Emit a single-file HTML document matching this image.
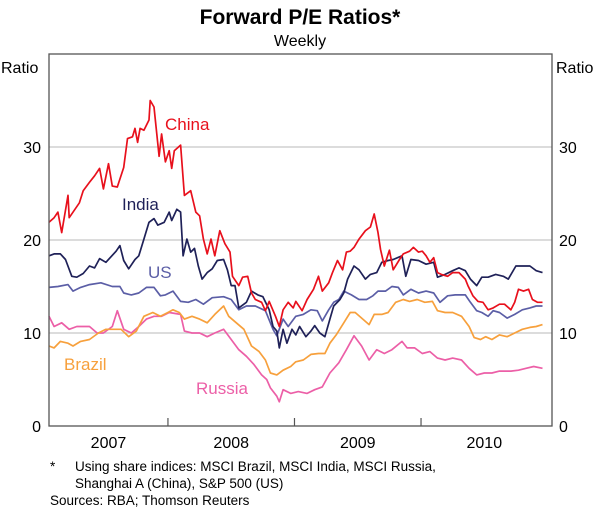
<!DOCTYPE html>
<html><head><meta charset="utf-8"><style>
body{margin:0;background:#fff;font-family:"Liberation Sans",Arial,sans-serif;}
svg{display:block}
</style></head><body>
<svg id="chart" width="600" height="510" xmlns="http://www.w3.org/2000/svg" font-family="Liberation Sans, Arial, sans-serif">
<text x="300" y="24" text-anchor="middle" font-size="21" font-weight="bold" fill="#000">Forward P/E Ratios*</text>
<text x="300" y="46" text-anchor="middle" font-size="16" fill="#000">Weekly</text>
<text x="1" y="73" font-size="16" fill="#000">Ratio</text>
<text x="556" y="73" font-size="16" fill="#000">Ratio</text>
<g id="grid"></g>
<g id="series"></g>
<rect x="49" y="54" width="503" height="372" fill="none" stroke="#555" stroke-width="1.3"/>
<g id="axes"></g>
<text x="165" y="130" font-size="17" fill="#e8101c">China</text>
<text x="122" y="210" font-size="17" fill="#1f2158">India</text>
<text x="148" y="278" font-size="17" fill="#5b5ea6">US</text>
<text x="64" y="370" font-size="17" fill="#f7a03c">Brazil</text>
<text x="196" y="394" font-size="17" fill="#ec5fa7">Russia</text>
<text x="50" y="471" font-size="13.5" fill="#000">*</text>
<text x="75" y="471" font-size="13.5" fill="#000">Using share indices: MSCI Brazil, MSCI India, MSCI Russia,</text>
<text x="75" y="488" font-size="13.5" fill="#000">Shanghai A (China), S&amp;P 500 (US)</text>
<text x="50" y="505" font-size="13.5" fill="#000">Sources: RBA; Thomson Reuters</text>
</svg>
<script>
const yTicks=[0,10,20,30];
const yearLabels=[2007,2008,2009,2010];
const chinaT=[2007.06,2007.10,2007.13,2007.16,2007.21,2007.22,2007.30,2007.33,2007.38,2007.42,2007.46,2007.49,2007.53,2007.56,2007.60,2007.65,2007.68,2007.72,2007.74,2007.76,2007.78,2007.81,2007.85,2007.86,2007.89,2007.93,2007.95,2007.98,2008.01,2008.03,2008.05,2008.10,2008.13,2008.18,2008.22,2008.25,2008.28,2008.31,2008.34,2008.37,2008.41,2008.45,2008.49,2008.51,2008.56,2008.59,2008.63,2008.66,2008.69,2008.74,2008.77,2008.80,2008.85,2008.88,2008.91,2008.95,2008.99,2009.01,2009.06,2009.10,2009.15,2009.19,2009.22,2009.27,2009.30,2009.34,2009.38,2009.41,2009.44,2009.47,2009.51,2009.56,2009.60,2009.63,2009.66,2009.68,2009.71,2009.75,2009.78,2009.83,2009.86,2009.91,2009.94,2009.98,2010.01,2010.04,2010.07,2010.10,2010.13,2010.16,2010.21,2010.25,2010.30,2010.35,2010.37,2010.41,2010.45,2010.49,2010.53,2010.57,2010.62,2010.66,2010.71,2010.74,2010.77,2010.81,2010.85,2010.88,2010.92,2010.96];
const chinaV=[21.9,22.4,23,20.8,24.8,22.4,24,25.3,26.2,26.9,27.7,25.5,28.2,25.8,25.7,27.8,30.9,31.1,32,30.5,32,31.8,32.9,35,34.3,29,31.4,28.4,29.6,27.7,29.6,30.2,24.8,25.3,23,22.6,20.1,18.5,20.1,18.3,21,19.6,18.7,16.1,15.1,16,16.1,14.3,13.6,13.3,12.4,13.4,11.8,10.7,12.5,13.3,12.7,13.4,12.4,13.6,14.7,16.1,14.5,15.4,16.5,17.8,16.8,18.7,18.8,19.2,20.1,21,21.4,22.8,20.8,19,17.2,18.9,16.8,17.9,18.5,18.8,19.2,18.7,18.8,18.3,17.6,18.1,16.5,16.3,16.1,16.5,16.5,15.8,15.1,14,13.4,13.3,12.5,12.7,13.1,13.1,12.5,13.3,14.7,14.5,14.7,13.6,13.3,13.3];
const indiaT=[2007.06,2007.10,2007.15,2007.19,2007.24,2007.28,2007.33,2007.38,2007.42,2007.46,2007.51,2007.59,2007.62,2007.65,2007.69,2007.74,2007.77,2007.81,2007.85,2007.89,2007.92,2007.97,2008.01,2008.03,2008.07,2008.10,2008.12,2008.15,2008.18,2008.21,2008.24,2008.27,2008.31,2008.35,2008.39,2008.44,2008.47,2008.50,2008.53,2008.56,2008.62,2008.66,2008.71,2008.75,2008.80,2008.83,2008.86,2008.88,2008.91,2008.94,2008.98,2009.01,2009.04,2009.09,2009.13,2009.16,2009.20,2009.24,2009.28,2009.31,2009.36,2009.39,2009.42,2009.47,2009.51,2009.56,2009.60,2009.65,2009.69,2009.74,2009.78,2009.85,2009.88,2009.92,2009.98,2010.04,2010.10,2010.13,2010.19,2010.25,2010.30,2010.35,2010.39,2010.44,2010.48,2010.53,2010.59,2010.65,2010.69,2010.75,2010.82,2010.86,2010.91,2010.96];
const indiaV=[18.3,18.5,18.5,17.9,16.1,16,16.4,17.2,17,18,17.6,18.8,19.4,17.8,16.9,17.9,18.3,20.1,21.9,22.3,21.6,21.9,23,22.1,23.3,23,18.3,20.1,18.7,19.1,17.2,15.8,16.5,16.9,17.8,17.9,16.8,15.1,15.1,12.7,13.3,14.5,14.1,13.9,12.5,10.7,10.2,8.4,10.4,8.9,10.4,9.8,10.7,9.6,10.2,10.8,10,9.6,11.5,12.9,13.6,14.3,15.8,17.2,16.8,15.8,16.3,16.5,17.6,17.8,17.9,18.3,16.1,17.9,17.8,17.4,17.6,16,16.3,16.7,17,16.7,15.8,15.1,16,16,16.3,16.1,15.8,17.2,17.2,17.2,16.7,16.5];
const usT=[2007.06,2007.13,2007.21,2007.25,2007.31,2007.38,2007.47,2007.56,2007.62,2007.65,2007.71,2007.77,2007.83,2007.89,2007.94,2007.98,2008.04,2008.10,2008.16,2008.22,2008.28,2008.35,2008.44,2008.50,2008.56,2008.62,2008.69,2008.77,2008.83,2008.86,2008.91,2008.95,2009.01,2009.07,2009.13,2009.18,2009.22,2009.27,2009.31,2009.35,2009.39,2009.45,2009.51,2009.57,2009.62,2009.66,2009.72,2009.77,2009.82,2009.86,2009.92,2009.98,2010.04,2010.10,2010.15,2010.21,2010.27,2010.35,2010.39,2010.44,2010.48,2010.53,2010.57,2010.62,2010.68,2010.74,2010.80,2010.86,2010.91,2010.96];
const usV=[14.9,15,15.2,14.5,14.9,15.2,15.4,15,15,14.3,14.1,14.3,14.9,14.9,14,14.1,14.5,13.4,13.3,13.6,13.1,13.8,13.9,13.6,12.5,12.9,12.9,12.4,10.4,9.7,11.5,10.7,11.8,12,12.5,12.4,11.3,12.5,13.3,13.6,14.5,14.1,13.6,13.6,14,14.5,14.5,15,14.9,14.1,14.7,14.3,14.5,14.3,13.3,14,14.1,14.1,13.3,12.4,12.2,11.8,12.4,12.2,11.6,12,12.5,12.7,12.9,12.9];
const brazilT=[2007.06,2007.10,2007.15,2007.21,2007.25,2007.31,2007.38,2007.45,2007.51,2007.57,2007.63,2007.69,2007.75,2007.81,2007.88,2007.94,2008.00,2008.04,2008.09,2008.13,2008.19,2008.25,2008.31,2008.37,2008.44,2008.48,2008.54,2008.60,2008.66,2008.72,2008.77,2008.81,2008.86,2008.91,2008.97,2009.01,2009.07,2009.13,2009.19,2009.24,2009.28,2009.33,2009.39,2009.44,2009.48,2009.54,2009.59,2009.63,2009.69,2009.74,2009.80,2009.86,2009.91,2009.97,2010.03,2010.09,2010.13,2010.19,2010.25,2010.32,2010.38,2010.42,2010.47,2010.51,2010.56,2010.62,2010.68,2010.74,2010.80,2010.86,2010.91,2010.96];
const brazilV=[8.6,8.4,9.1,8.9,8.6,9.1,9.3,10,10.4,10.4,10.4,9.6,10.2,11.8,12.2,11.8,12.2,12.5,12.2,11.5,11.8,11.5,11.1,12,12.9,11.8,11.1,10.4,8.6,8,7.1,5.7,5.5,6,6.4,6.9,7.1,7.7,7.8,7.8,8.9,9.8,11.1,12.2,12.2,11.5,10.9,12,12,12.2,13.3,13.6,13.4,13.6,13.3,13.4,12.4,12.2,12.2,11.8,10.7,9.5,9.3,9.6,9.3,9.8,9.6,10,10.4,10.6,10.7,10.9];
const russiaT=[2007.06,2007.10,2007.16,2007.22,2007.28,2007.38,2007.44,2007.49,2007.56,2007.60,2007.65,2007.71,2007.77,2007.83,2007.89,2007.95,2008.01,2008.10,2008.13,2008.19,2008.25,2008.31,2008.37,2008.44,2008.50,2008.56,2008.62,2008.68,2008.74,2008.78,2008.81,2008.86,2008.88,2008.91,2008.97,2009.03,2009.10,2009.16,2009.22,2009.28,2009.35,2009.41,2009.47,2009.53,2009.59,2009.65,2009.71,2009.77,2009.85,2009.89,2009.95,2010.01,2010.07,2010.13,2010.19,2010.25,2010.32,2010.38,2010.44,2010.50,2010.56,2010.62,2010.71,2010.77,2010.83,2010.89,2010.96];
const russiaV=[11.8,10.7,11.1,10.4,10.7,10.7,10,10,10.7,12.4,10.4,10,10.7,11.5,11.8,11.8,12.2,12,10.2,10,10,9.6,10,10.4,9.3,8.2,7.5,6.6,5.5,5,4.1,3.2,2.6,3.9,3.5,3.7,3.5,3.9,4.2,5.7,6.8,8.2,9.7,8.6,7.1,8.2,7.8,8.2,9.1,8.4,8.4,7.8,8,7.3,7.1,7.3,7.1,6.2,5.5,5.7,5.7,5.9,5.9,6,6.2,6.4,6.2];

const NS='http://www.w3.org/2000/svg';
const L=49,R=552,T=54,B=426;
const tMin=2007.06,tMax=2011.035,vMin=0,vMax=40;
function xs(t){return L+(t-tMin)/(tMax-tMin)*(R-L);}
function ys(v){return B-(v-vMin)/(vMax-vMin)*(B-T);}
function mk(tag,attrs,parent){const e=document.createElementNS(NS,tag);for(const k in attrs)e.setAttribute(k,attrs[k]);parent.appendChild(e);return e;}
const grid=document.getElementById('grid'),axes=document.getElementById('axes'),ser=document.getElementById('series');
yTicks.forEach(v=>{
  if(v>0){const g=mk('line',{x1:L,x2:R,y1:ys(v),y2:ys(v),stroke:'#c8c8c8','stroke-width':1.2},grid);
  
  }
  const a=mk('text',{x:41,y:ys(v)+6,'text-anchor':'end','font-size':16,fill:'#000'},axes);a.textContent=v;
  
  
  const b=mk('text',{x:559,y:ys(v)+6,'font-size':16,fill:'#000'},axes);b.textContent=v;
  
  
});
yearLabels.forEach(yr=>{
  const c=(Math.max(xs(yr),L)+Math.min(xs(yr+1),R))/2;
  const tx=mk('text',{x:c,y:448,'text-anchor':'middle','font-size':16,fill:'#000'},axes);tx.textContent=yr;
  
  
  if(yr>yearLabels[0]){const tk=mk('line',{x1:xs(yr),x2:xs(yr),y1:B,y2:B-8,stroke:'#555','stroke-width':1.2},axes);
  
  }
});
function line(T_,V,color,name){
  const d=T_.map((t,i)=>(i?'L':'M')+xs(t).toFixed(1)+','+ys(V[i]).toFixed(1)).join('');
  const p=mk('path',{d:d,fill:'none',stroke:color,'stroke-width':1.7,'stroke-linejoin':'round'},ser);
  
  
}
line(russiaT,russiaV,'#ec5fa7','line-russia');
line(brazilT,brazilV,'#f7a03c','line-brazil');
line(usT,usV,'#5b5ea6','line-us');
line(indiaT,indiaV,'#1f2158','line-india');
line(chinaT,chinaV,'#e8101c','line-china');
</script>
</body></html>
